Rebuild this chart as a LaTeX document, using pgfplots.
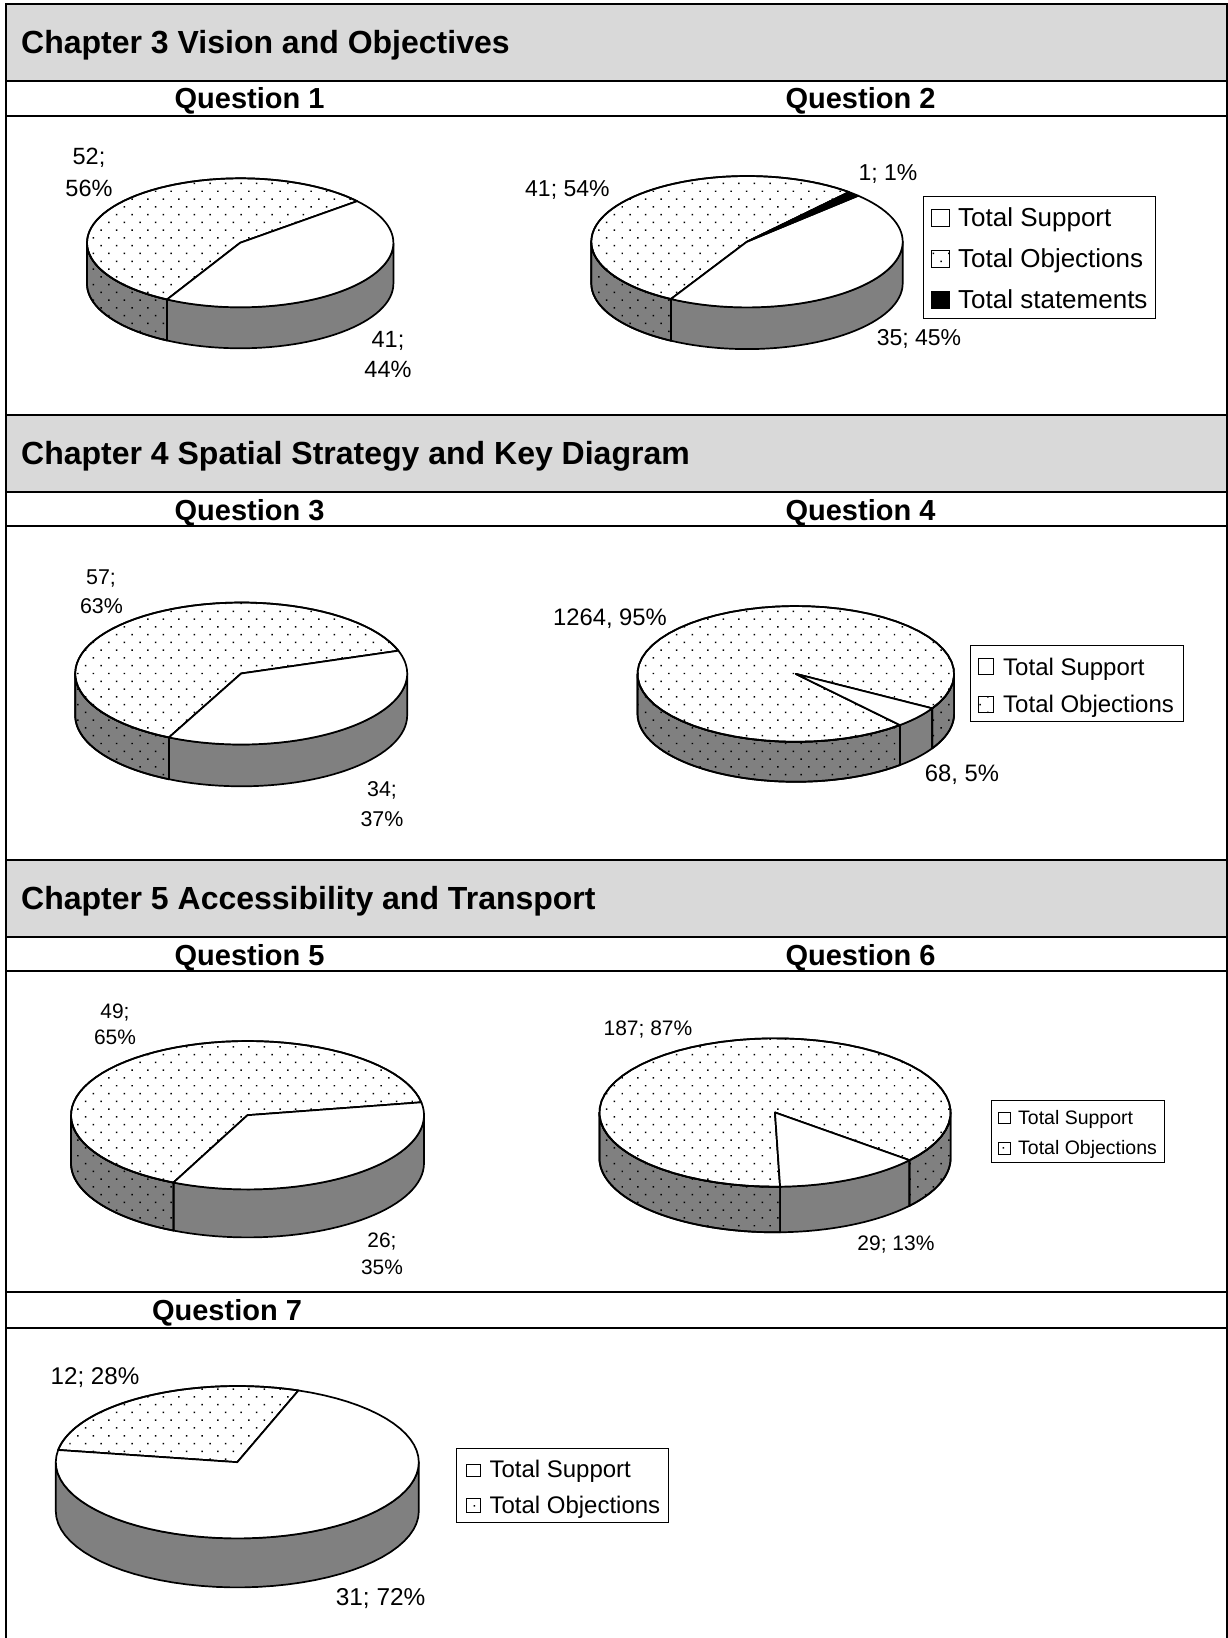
\documentclass[border=0pt]{standalone}
\usepackage{fontspec}
\setmainfont{Liberation Sans}
\usepackage{pgfplots}
\pgfplotsset{compat=1.18}
\usetikzlibrary{patterns.meta}
\definecolor{hdrgray}{HTML}{D9D9D9}
\definecolor{sidegray}{HTML}{808080}
\tikzset{
  plainTop/.style={draw=black,line width=1.7pt,line join=round,fill=white},
  dotTop/.style={draw=black,line width=1.7pt,line join=round,preaction={fill=white},
    pattern={Dots[distance=11pt,angle=45,radius=1.05pt]},pattern color=black},
  blackTop/.style={draw=black,line width=1.7pt,line join=round,fill=black},
  plainSide/.style={draw=black,line width=1.7pt,line join=round,fill=sidegray},
  dotSide/.style={draw=black,line width=1.7pt,line join=round,preaction={fill=sidegray},
    pattern={Dots[distance=11pt,angle=45,radius=1.05pt]},pattern color=black},
  rule/.style={draw=black,line width=2pt},
  legbox/.style={draw=black,line width=0.9pt,fill=white},
  swatch/.style={draw=black,line width=0.9pt,fill=white},
  swatchdot/.style={draw=black,line width=0.9pt,preaction={fill=white},
    pattern={Dots[distance=11pt,angle=45,radius=1.05pt]},pattern color=black},
  swatchblack/.style={draw=black,line width=0.9pt,fill=black},
}
% one top-face slice, from angle #1 to #2
\newcommand{\slice}[3]{%
  \addplot[#3,samples at={0,...,60},variable=\t]
   ({\t<60 ? \cx+\rx*cos(#1+(#2-#1)*\t/59) : \cx},
    {\t<60 ? \cy-\ry*sin(#1+(#2-#1)*\t/59) : \cy}) -- cycle;}
% one piece of the rim, from angle #1 to #2 (both in -180..0)
\newcommand{\rim}[3]{%
  \pgfmathtruncatemacro\okrim{(#1<#2)?1:0}%
  \ifnum\okrim=1
  \addplot[#3,samples at={0,...,79},variable=\t]
   ({\cx+\rx*cos(\t<40 ? #1+(#2-#1)*\t/39 : #1+(#2-#1)*(79-\t)/39)},
    {\cy-\ry*sin(\t<40 ? #1+(#2-#1)*\t/39 : #1+(#2-#1)*(79-\t)/39)+(\t<40 ? 0 : \dep)}) -- cycle;
  \fi}
% centre x, centre y, radius x, radius y, depth, start angle, support, objections, statements
\newcommand{\pie}[9]{%
  \def\cx{#1}\def\cy{#2}\def\rx{#3}\def\ry{#4}\def\dep{#5}%
  \pgfmathsetmacro\tot{#7+#8+#9}%
  \pgfmathsetmacro\vs{#7/\tot*360}%
  \pgfmathsetmacro\vt{#9/\tot*360}%
  \pgfmathsetmacro\sEnd{#6-\vs}%
  \pgfmathsetmacro\tEnd{#6+\vt}%
  \pgfmathsetmacro\oEnd{#6+360-\vs}%
  % rim
  \pgfmathsetmacro\ra{max(\sEnd,-180)}\pgfmathsetmacro\rb{min(#6,0)}%
  \rim{\ra}{\rb}{plainSide}%
  \pgfmathsetmacro\ra{max(\tEnd-360,-180)}\pgfmathsetmacro\rb{min(\sEnd,0)}%
  \rim{\ra}{\rb}{dotSide}%
  \pgfmathsetmacro\ra{max(\tEnd,-180)}\pgfmathsetmacro\rb{min(\oEnd,0)}%
  \rim{\ra}{\rb}{dotSide}%
  % top
  \slice{\tEnd}{\oEnd}{dotTop}%
  \slice{#6}{\sEnd}{plainTop}%
  \pgfmathtruncatemacro\hasT{(#9>0)?1:0}%
  \ifnum\hasT=1 \slice{#6}{\tEnd}{blackTop}\fi}
\newcommand{\rectp}[5]{\addplot[#5] coordinates {(#1,#2)(#3,#2)(#3,#4)(#1,#4)} -- cycle;}
\newcommand{\hrl}[1]{\addplot[rule] coordinates {(6,#1)(1227,#1)};}
\newcommand{\lbl}[4]{\node[anchor=base,inner sep=0pt,font=\fontsize{#3}{#3}\selectfont] at (axis cs:#1,#2) {#4};}
\newcommand{\lblw}[4]{\node[anchor=base west,inner sep=0pt,font=\fontsize{#3}{#3}\selectfont] at (axis cs:#1,#2) {#4};}
\newcommand{\hdr}[3]{\node[anchor=base west,inner sep=0pt,font=\fontsize{32}{32}\selectfont\bfseries] at (axis cs:#1,#2) {#3};}
\newcommand{\qst}[3]{\node[anchor=base,inner sep=0pt,font=\fontsize{29}{29}\selectfont\bfseries] at (axis cs:#1,#2) {#3};}
\begin{document}
\begin{tikzpicture}
\useasboundingbox (0,0) rectangle (1228pt,1638pt);
\begin{axis}[at={(0,0)},anchor=south west,scale only axis,width=1228pt,height=1638pt,
  xmin=0,xmax=1228,ymin=0,ymax=1638,y dir=reverse,hide axis,clip=false]
\rectp{0}{0}{1228}{1638}{fill=white,draw=none}
% grey chapter bands
\rectp{6}{4}{1227}{81}{fill=hdrgray,rule}
\rectp{6}{414.5}{1227}{492}{fill=hdrgray,rule}
\rectp{6}{859.5}{1227}{936.5}{fill=hdrgray,rule}
% rules
\hrl{115.7}\hrl{526.3}\hrl{971.2}\hrl{1291.5}\hrl{1328}
\addplot[rule] coordinates {(6,4)(6,1638)};
\addplot[rule] coordinates {(1227,4)(1227,1638)};
% pies
\pie{240.2}{242.8}{153.2}{64.5}{41}{40.2}{41}{52}{0}
\pie{747}{241.7}{155.7}{65.7}{41.7}{44.4}{35}{41}{1}
\pie{241.2}{673.5}{166}{71}{41.8}{18.7}{34}{57}{0}
\pie{795.8}{673.9}{158.3}{67.9}{40}{-30.5}{68}{1264}{0}
\pie{247.5}{1115.2}{176.5}{74.2}{48}{10}{26}{49}{0}
\pie{775}{1112.5}{175.6}{74.2}{45.6}{-40}{29}{187}{0}
\pie{237.3}{1462.2}{181.5}{76.2}{49}{70.3}{31}{12}{0}
% legends
\rectp{923}{196}{1155.7}{318.3}{legbox}
\rectp{931.7}{209.3}{949}{226.7}{swatch}
\rectp{931.7}{250.5}{949}{267.5}{swatchdot}
\rectp{931.7}{291}{949}{308.3}{swatchblack}
\rectp{970}{645.3}{1183}{721.7}{legbox}
\rectp{978.4}{658.3}{993.7}{674}{swatch}
\rectp{978.4}{696}{993.7}{712}{swatchdot}
\rectp{991.3}{1100}{1164}{1162.3}{legbox}
\rectp{998}{1112.3}{1010.6}{1123.3}{swatch}
\rectp{998}{1142.7}{1010.6}{1154}{swatchdot}
\rectp{456.3}{1448.3}{668.8}{1522.3}{legbox}
\rectp{466}{1464}{480.4}{1476}{swatch}
\rectp{466}{1498.7}{480.4}{1512}{swatchdot}
% text
\hdr{21}{53}{Chapter 3 Vision and Objectives}
\hdr{21}{464.5}{Chapter 4 Spatial Strategy and Key Diagram}
\hdr{21}{909.5}{Chapter 5 Accessibility and Transport}
\qst{249.6}{108.5}{Question 1}
\qst{860.5}{108.5}{Question 2}
\qst{249.6}{520}{Question 3}
\qst{860.5}{520}{Question 4}
\qst{249.6}{965}{Question 5}
\qst{860.5}{965}{Question 6}
\qst{227}{1320}{Question 7}
\lbl{89}{164.3}{23.5}{52;}
\lbl{89}{196.7}{23.5}{56\%}
\lbl{388}{347.5}{23.5}{41;}
\lbl{388}{377.5}{23.5}{44\%}
\lbl{567.4}{196}{23}{41; 54\%}
\lbl{888}{180}{23}{1; 1\%}
\lbl{919}{345}{23}{35; 45\%}
\lblw{958}{226.7}{26}{Total Support}
\lblw{958}{267.3}{26}{Total Objections}
\lblw{958}{308.3}{26}{Total statements}
\lbl{101}{584.7}{21.4}{57;}
\lbl{101.5}{613}{21.4}{63\%}
\lbl{382}{796.7}{21.4}{34;}
\lbl{382}{826}{21.4}{37\%}
\lbl{610}{625}{23.8}{1264, 95\%}
\lbl{962}{781}{23.8}{68, 5\%}
\lblw{1003}{675}{24}{Total Support}
\lblw{1003}{712.7}{24}{Total Objections}
\lbl{115}{1018}{20.9}{49;}
\lbl{115}{1044}{20.9}{65\%}
\lbl{382}{1247.8}{20.9}{26;}
\lbl{382}{1274}{20.9}{35\%}
\lbl{648}{1035}{21}{187; 87\%}
\lbl{896}{1250}{21}{29; 13\%}
\lblw{1018}{1124}{19.5}{Total Support}
\lblw{1018}{1154.3}{19.5}{Total Objections}
\lbl{95}{1384}{24.2}{12; 28\%}
\lbl{380.6}{1605}{24.4}{31; 72\%}
\lblw{489.3}{1477.3}{24}{Total Support}
\lblw{489.3}{1513.3}{24}{Total Objections}
\end{axis}
\end{tikzpicture}
\end{document}
